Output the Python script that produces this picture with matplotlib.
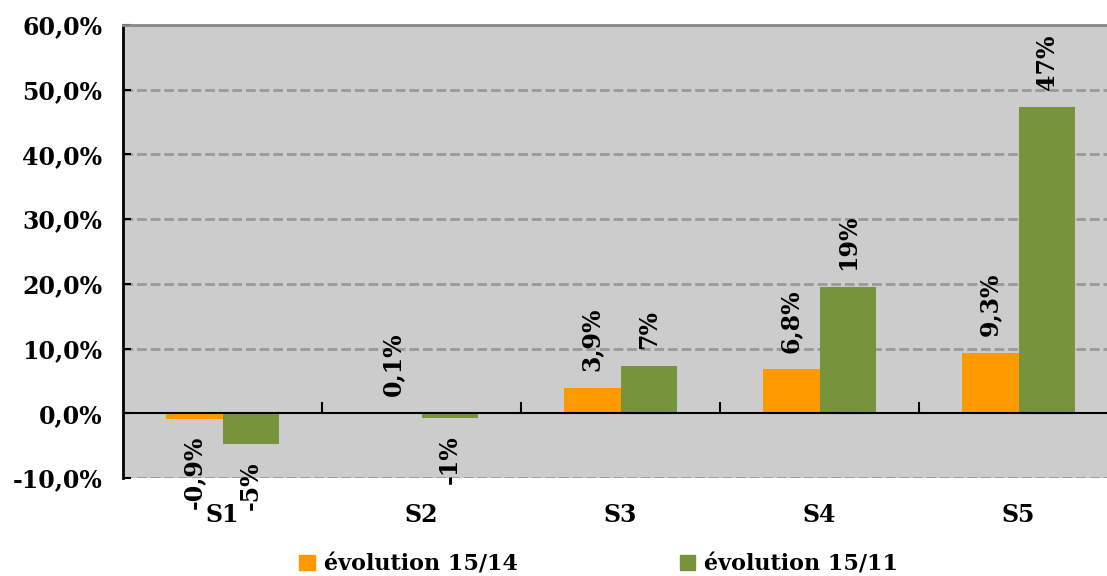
import matplotlib.pyplot as plt
import numpy as np
from matplotlib.patches import Patch

# données
secteurs = ["S1", "S2", "S3", "S4", "S5"]
evol_15_14 = [-0.9, 0.1, 3.9, 6.8, 9.3]
evol_15_11 = [-4.8, -0.8, 7.3, 19.5, 47.4]
lib_15_14 = ["-0,9%", "0,1%", "3,9%", "6,8%", "9,3%"]
lib_15_11 = ["-5%", "-1%", "7%", "19%", "47%"]
graduations = [-10, 0, 10, 20, 30, 40, 50, 60]

orange = "#FF9900"
vert = "#77933C"
police = "DejaVu Serif"

fig = plt.figure(figsize=(11.07, 5.76), dpi=100)
ax = fig.add_axes([123 / 1107, 98 / 576, 1 - 123 / 1107, 453 / 576])
ax.set_facecolor("#CCCCCC")

x = np.arange(len(secteurs))
w = 0.286
b1 = ax.bar(x - w / 2, evol_15_14, w, color=orange, zorder=3)
b2 = ax.bar(x + w / 2, evol_15_11, w, color=vert, zorder=3)

for bars, libs in ((b1, lib_15_14), (b2, lib_15_11)):
    for r, t in zip(bars, libs):
        h = r.get_height()
        xc = r.get_x() + r.get_width() / 2
        if h >= 0:
            ax.annotate(t, (xc, h), xytext=(0, 12), textcoords="offset points",
                        rotation=90, ha="center", va="bottom",
                        fontsize=17, fontweight="bold", family=police, zorder=4)
        else:
            ax.annotate(t, (xc, h), xytext=(0, -12), textcoords="offset points",
                        rotation=90, ha="center", va="top",
                        fontsize=17, fontweight="bold", family=police, zorder=4)

ax.set_ylim(-10, 60)
ax.set_xlim(-0.5, -0.5 + (1107 - 123) / 199)
ax.set_yticks(graduations)
ax.set_yticklabels([f"{v},0%" for v in graduations], fontsize=17, fontweight="bold", family=police)
ax.tick_params(axis="y", direction="in", length=6, width=1.5, pad=15)
ax.set_xticks(x)
ax.set_xticklabels(secteurs, fontsize=17, fontweight="bold", family=police)
ax.tick_params(axis="x", length=0, pad=18)

for v in graduations[:-1]:
    if v != 0:
        ax.axhline(v, color="#999999", lw=2, ls=(0, (3.5, 1.4)), zorder=1)
ax.axhline(0, color="black", lw=1.5, zorder=3)

# petites graduations entre catégories sur l'axe zéro
for xb in np.arange(0.5, len(secteurs), 1.0):
    ax.plot([xb, xb], [0, 1.6], color="black", lw=1.5, zorder=3)

ax.spines["left"].set_color("black")
ax.spines["left"].set_linewidth(2)
ax.spines["top"].set_color("#888888")
ax.spines["top"].set_linewidth(2)
ax.spines["bottom"].set_visible(False)
ax.spines["right"].set_visible(False)

handles = [Patch(color=orange, label="évolution 15/14"), Patch(color=vert, label="évolution 15/11")]
fig.legend(handles=handles, loc="center", bbox_to_anchor=(0.541, 0.02), ncol=2, frameon=False,
           prop={"family": police, "weight": "bold", "size": 16}, handlelength=0.7,
           handleheight=0.7, handletextpad=0.4, columnspacing=7.3)

fig.savefig("out.png", dpi=100)
